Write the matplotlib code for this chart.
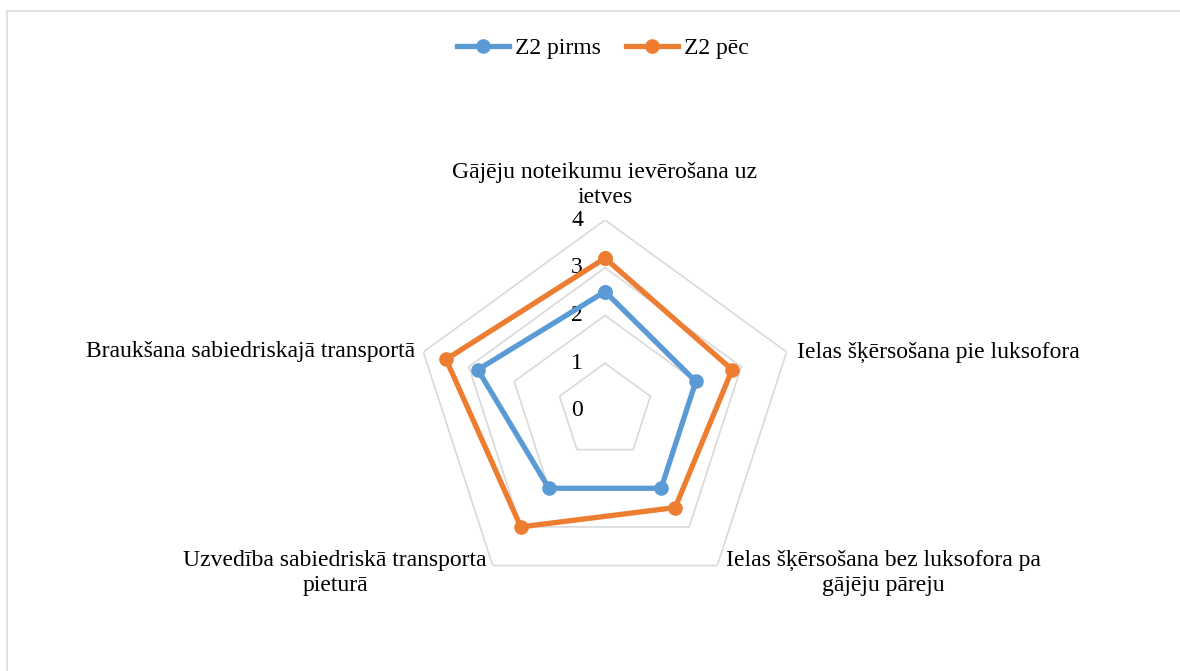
import numpy as np
import matplotlib
matplotlib.use("Agg")
import matplotlib.pyplot as plt
from matplotlib.patches import Rectangle
from matplotlib.transforms import offset_copy

plt.rcParams['font.family'] = ['Liberation Serif', 'DejaVu Serif']

# Data
categories = [
    "Gājēju noteikumu ievērošana uz\nietves",
    "Ielas šķērsošana pie luksofora",
    "Ielas šķērsošana bez luksofora pa\ngājēju pāreju",
    "Uzvedība sabiedriskā transporta\npieturā",
    "Braukšana sabiedriskajā transportā",
]
series_names = ["Z2 pirms", "Z2 pēc"]
z2_pirms = [2.5, 2.0, 2.0, 2.0, 2.8]
z2_pec = [3.2, 2.8, 2.5, 3.0, 3.5]
levels = [0, 1, 2, 3, 4]
colors = ["#5b9bd5", "#ed7d31"]

W, H = 1180, 671
fig = plt.figure(figsize=(W / 100, H / 100), dpi=100)

# figure border (light gray, only top/left visible)
fig.patches.append(Rectangle((7 / W, -0.1), 1.2, 1 - 11 / H + 0.1,
                             transform=fig.transFigure, fill=False,
                             edgecolor="#d9d9d9", linewidth=1.2))

cx, cy, R = 605, 411, 191
ax = fig.add_axes([(cx - R) / W, 1 - (cy + R) / H, 2 * R / W, 2 * R / H],
                  projection="polar")
ax.set_theta_offset(np.pi / 2)
ax.set_theta_direction(-1)
ax.set_ylim(0, 4)
ax.axis("off")

n = len(categories)
angles = np.linspace(0, 2 * np.pi, n, endpoint=False)
closed = np.concatenate([angles, angles[:1]])

fs = 17

# polygon grid
for lv in levels[1:]:
    ax.plot(closed, [lv] * (n + 1), color="#d9d9d9", lw=1.2, zorder=1)

# level labels
lab_tr = offset_copy(ax.transData, fig=fig, x=-28, y=0, units="dots")
for lv in levels:
    ax.text(0, lv, str(lv), transform=lab_tr, ha="center", va="center",
            fontsize=fs, color="#000000")

# series
for vals, name, col in zip([z2_pirms, z2_pec], series_names, colors):
    v = vals + vals[:1]
    ax.plot(closed, v, color=col, lw=3.8, marker="o", markersize=9.5,
            label=name, zorder=3, solid_joinstyle="round")

# category labels
fig.text(605 / W, 1 - 185 / H, categories[0], ha="center", va="center",
         fontsize=fs, linespacing=1.3)
fig.text(797 / W, 1 - 352 / H, categories[1], ha="left", va="center",
         fontsize=fs)
fig.text(883 / W, 1 - 573 / H, categories[2], ha="center", va="center",
         fontsize=fs, linespacing=1.3)
fig.text(335 / W, 1 - 573 / H, categories[3], ha="center", va="center",
         fontsize=fs, linespacing=1.3)
fig.text(415 / W, 1 - 352 / H, categories[4], ha="right", va="center",
         fontsize=fs)

handles, labels = ax.get_legend_handles_labels()
fig.legend(handles, labels, loc="center", bbox_to_anchor=(603 / W, 1 - 48 / H),
           ncol=2, frameon=False, fontsize=fs, handlelength=2.2,
           handletextpad=0.25, columnspacing=1.05)

fig.savefig("out.png", dpi=100, facecolor="white")
